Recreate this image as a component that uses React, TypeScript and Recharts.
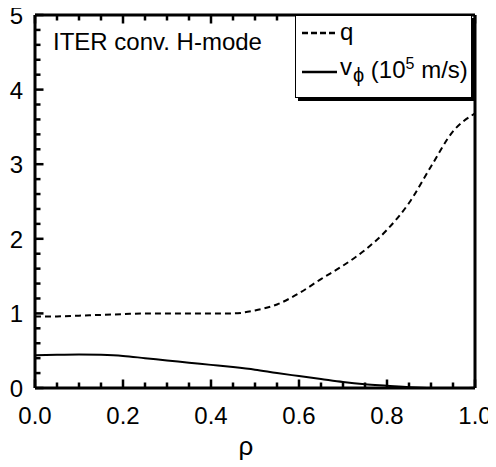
import React from 'react';
import { LineChart, Line, XAxis, YAxis, Legend } from 'recharts';

const rho = [0, 0.05, 0.1, 0.15, 0.2, 0.25, 0.3, 0.35, 0.4, 0.45, 0.5, 0.55, 0.6, 0.65, 0.7, 0.75, 0.8, 0.85, 0.9, 0.95, 1.0];
const qValues = [0.96, 0.96, 0.97, 0.98, 0.99, 1.0, 1.0, 1.0, 1.0, 1.0, 1.04, 1.12, 1.27, 1.46, 1.64, 1.85, 2.12, 2.48, 2.97, 3.44, 3.68];
const vPhiValues = [0.44, 0.445, 0.45, 0.445, 0.43, 0.4, 0.37, 0.34, 0.31, 0.28, 0.245, 0.2, 0.16, 0.12, 0.08, 0.05, 0.03, 0.01, 0.0, 0.0, 0.005];

const xTicks = [0, 0.05, 0.1, 0.15, 0.2, 0.25, 0.3, 0.35, 0.4, 0.45, 0.5, 0.55, 0.6, 0.65, 0.7, 0.75, 0.8, 0.85, 0.9, 0.95, 1.0];
const xMajorTicks = [0, 0.2, 0.4, 0.6, 0.8, 1.0];
const xMajorLabels = ['0.0', '0.2', '0.4', '0.6', '0.8', '1.0'];
const yTicks = [0, 0.2, 0.4, 0.6, 0.8, 1, 1.2, 1.4, 1.6, 1.8, 2, 2.2, 2.4, 2.6, 2.8, 3, 3.2, 3.4, 3.6, 3.8, 4, 4.2, 4.4, 4.6, 4.8, 5];
const yMajorTicks = [0, 1, 2, 3, 4, 5];
const yMajorLabels = ['0', '1', '2', '3', '4', '5'];

const titleText = 'ITER conv. H-mode';
const xAxisLabel = 'ρ';

const data = rho.map((r, i) => ({ rho: r, q: qValues[i], v: vPhiValues[i] }));

const FONT = '"Liberation Sans", Arial, Helvetica, sans-serif';
const TW = 2.5;
const TICK = '#000';
const MAJOR_LEN = 8.5;
const MINOR_LEN = 5.5;

const majorIndex = (list: number[], v: number) => list.findIndex((m) => Math.abs(m - v) < 1e-6);

const BottomTick = (props: any) => {
  const x = Number(props.x);
  const y = Number(props.y);
  const idx = majorIndex(xMajorTicks, props.payload.value);
  const major = idx >= 0;
  const len = major ? MAJOR_LEN : MINOR_LEN;
  return (
    <g>
      <rect x={x - TW / 2} y={y - len} width={TW} height={len} fill={TICK} />
      {major && (
        <text x={x} y={y + 36} textAnchor="middle" fontSize={24} fontFamily={FONT} fill="#000">
          {xMajorLabels[idx]}
        </text>
      )}
    </g>
  );
};

const TopTick = (props: any) => {
  const x = Number(props.x);
  const y = Number(props.y);
  const major = majorIndex(xMajorTicks, props.payload.value) >= 0;
  const len = major ? MAJOR_LEN : MINOR_LEN;
  return <rect x={x - TW / 2} y={y} width={TW} height={len} fill={TICK} />;
};

const LeftTick = (props: any) => {
  const x = Number(props.x);
  const y = Number(props.y);
  const idx = majorIndex(yMajorTicks, props.payload.value);
  const major = idx >= 0;
  const len = major ? MAJOR_LEN : MINOR_LEN;
  return (
    <g>
      <rect x={x} y={y - TW / 2} width={len} height={TW} fill={TICK} />
      {major && (
        <text x={x - 12} y={y + 9} textAnchor="end" fontSize={24} fontFamily={FONT} fill="#000">
          {yMajorLabels[idx]}
        </text>
      )}
    </g>
  );
};

const RightTick = (props: any) => {
  const x = Number(props.x);
  const y = Number(props.y);
  const major = majorIndex(yMajorTicks, props.payload.value) >= 0;
  const len = major ? MAJOR_LEN : MINOR_LEN;
  return <rect x={x - len} y={y - TW / 2} width={len} height={TW} fill={TICK} />;
};

const LegendBox = () => (
  <svg width={180} height={86} style={{ display: 'block' }}>
    <rect x={3} y={3} width={177} height={83} fill="#000" />
    <rect x={0.5} y={0.5} width={176} height={82} fill="#fff" stroke="#000" strokeWidth={1} />
    <line x1={7} y1={18} x2={42} y2={18} stroke="#000" strokeWidth={2.5} strokeDasharray="6 3" />
    <text x={45} y={25} fontSize={24} fontFamily={FONT} fill="#000">q</text>
    <line x1={7} y1={57} x2={42} y2={57} stroke="#000" strokeWidth={2.5} />
    <text x={45} y={60} fontSize={24} fontFamily={FONT} fill="#000">
      v
      <tspan dx={1} dy={7} fontSize={20}>ϕ</tspan>
      <tspan dy={-4} fontSize={24}> (10</tspan>
      <tspan dy={-9} fontSize={16}>5</tspan>
      <tspan dy={9} fontSize={24}> m/s)</tspan>
    </text>
  </svg>
);

export default function App() {
  return (
    <div style={{ position: 'relative', width: 488, height: 459 }}>
      <LineChart width={488} height={459} data={data} margin={{ top: 6, right: 20, left: 0, bottom: 0 }}>
        <XAxis
          xAxisId="bottom"
          dataKey="rho"
          type="number"
          domain={[0, 1]}
          ticks={xTicks}
          interval={0}
          height={79}
          tickSize={0}
          tickMargin={0}
          tickLine={false}
          tick={<BottomTick />}
          axisLine={{ stroke: '#000', strokeWidth: 3 }}
          label={{ value: xAxisLabel, position: 'insideBottom', offset: 12, dx: -9, fontSize: 26, fontFamily: FONT, fill: '#000' }}
        />
        <XAxis
          xAxisId="top"
          orientation="top"
          dataKey="rho"
          type="number"
          domain={[0, 1]}
          ticks={xTicks}
          interval={0}
          height={1}
          tickSize={0}
          tickMargin={0}
          tickLine={false}
          tick={<TopTick />}
          axisLine={{ stroke: '#000', strokeWidth: 3 }}
        />
        <YAxis
          yAxisId="left"
          type="number"
          domain={[0, 5]}
          ticks={yTicks}
          interval={0}
          width={27}
          tickSize={0}
          tickMargin={0}
          tickLine={false}
          tick={<LeftTick />}
          axisLine={{ stroke: '#000', strokeWidth: 3 }}
        />
        <YAxis
          yAxisId="right"
          orientation="right"
          type="number"
          domain={[0, 5]}
          ticks={yTicks}
          interval={0}
          width={1}
          tickSize={0}
          tickMargin={0}
          tickLine={false}
          tick={<RightTick />}
          axisLine={{ stroke: '#000', strokeWidth: 3 }}
        />
        <Line
          xAxisId="bottom"
          yAxisId="left"
          type="monotone"
          dataKey="q"
          stroke="#000"
          strokeWidth={2}
          strokeDasharray="6 4"
          dot={false}
          isAnimationActive={false}
        />
        <Line
          xAxisId="bottom"
          yAxisId="left"
          type="monotone"
          dataKey="v"
          stroke="#000"
          strokeWidth={2}
          dot={false}
          isAnimationActive={false}
        />
        <Legend
          layout="vertical"
          align="center"
          verticalAlign="middle"
          content={() => <LegendBox />}
          wrapperStyle={{ position: 'absolute', left: 287, top: 7, width: 180, height: 86 }}
        />
      </LineChart>
      <svg width={488} height={459} style={{ position: 'absolute', left: 0, top: 0, pointerEvents: 'none' }}>
        <text x={45} y={42} fontSize={24} fontFamily={FONT} fill="#000">{titleText}</text>
      </svg>
    </div>
  );
}
